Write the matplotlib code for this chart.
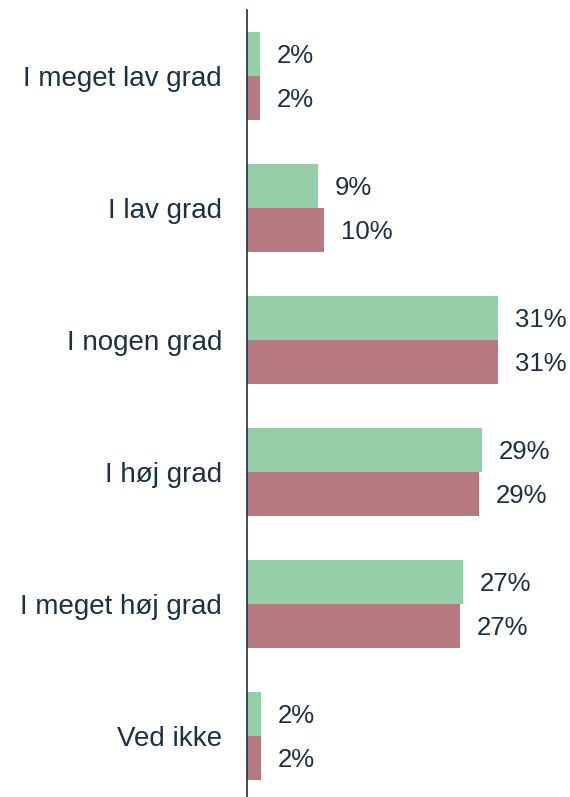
import numpy as np
import matplotlib.pyplot as plt

plt.rcParams['font.family'] = ['Liberation Sans', 'DejaVu Sans']

# Data
categories = ["I meget lav grad", "I lav grad", "I nogen grad", "I høj grad",
              "I meget høj grad", "Ved ikke"]
green_vals = [1.6, 8.8, 31.0, 29.0, 26.7, 1.75]
red_vals = [1.6, 9.5, 31.0, 28.7, 26.3, 1.75]
green_labels = ["2%", "9%", "31%", "29%", "27%", "2%"]
red_labels = ["2%", "10%", "31%", "29%", "27%", "2%"]

text_col = "#1c3044"
green = "#96cea8"
red = "#b5797f"

fig = plt.figure(figsize=(5.7, 7.97), dpi=100)
ax = fig.add_axes([247 / 570, 0, 323 / 570, 787 / 797])

y = np.arange(len(categories))
h = 0.333
ax.barh(y - h / 2, green_vals, height=h, color=green)
ax.barh(y + h / 2, red_vals, height=h, color=red)

for yi, v, lab in zip(y, green_vals, green_labels):
    ax.annotate(lab, (v, yi - h / 2), xytext=(12, -1.5), textcoords="offset points",
                ha="left", va="center", fontsize=18.5, color=text_col)
for yi, v, lab in zip(y, red_vals, red_labels):
    ax.annotate(lab, (v, yi + h / 2), xytext=(12, -1.5), textcoords="offset points",
                ha="left", va="center", fontsize=18.5, color=text_col)

ax.set_xlim(0, 39.9)
ax.set_ylim(5.46, -0.5)
ax.set_yticks(y)
ax.set_yticklabels(categories, fontsize=20, color=text_col)
ax.tick_params(axis="y", length=0, pad=18)
ax.set_xticks([])
for s in ["top", "right", "bottom"]:
    ax.spines[s].set_visible(False)
ax.spines["left"].set_color(text_col)
ax.spines["left"].set_linewidth(1.2)

fig.savefig("out.png", dpi=100)
